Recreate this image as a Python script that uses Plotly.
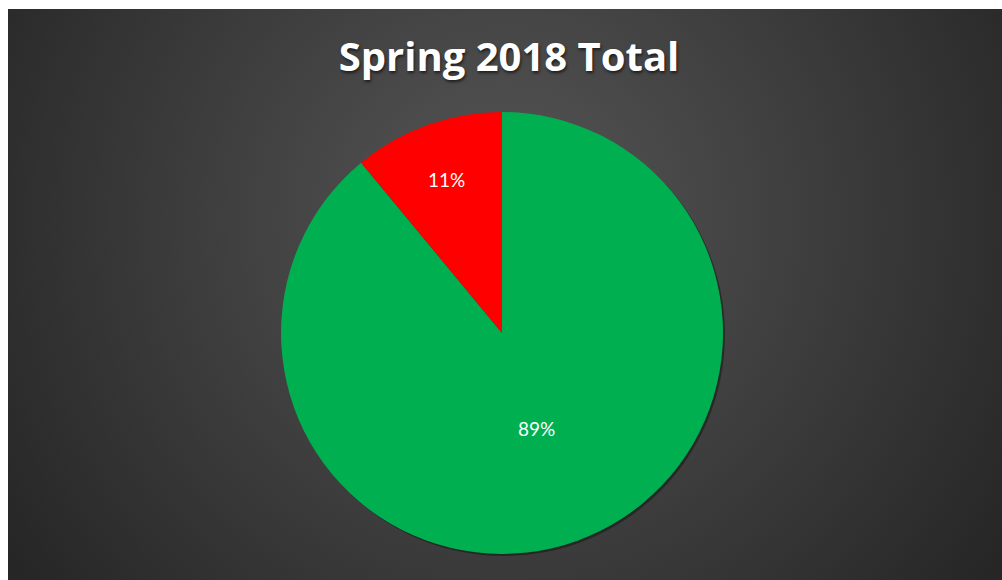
import base64
import math
import plotly.graph_objects as go

# Share of the Spring 2018 total (slices run clockwise from 12 o'clock)
categories = ["Yes", "No"]
values = [89, 11]
slice_colors = ["#00B050", "#FF0000"]

title_text = "Spring 2018 Total"

# Plot-area size in pixels (figure minus margins)
W, H = 994, 571

# Dark radial-gradient backdrop drawn as an SVG image behind the plot area
svg = (
    f'<svg xmlns="http://www.w3.org/2000/svg" width="{W}" height="{H}" '
    f'viewBox="0 0 {W} {H}" preserveAspectRatio="none">'
    '<defs><radialGradient id="g" cx="497" cy="210" r="600" gradientUnits="userSpaceOnUse">'
    '<stop offset="0" stop-color="#565656"/>'
    '<stop offset="1" stop-color="#262626"/>'
    '</radialGradient></defs>'
    f'<rect width="{W}" height="{H}" fill="url(#g)"/></svg>'
)
bg_src = "data:image/svg+xml;base64," + base64.b64encode(svg.encode()).decode()

dom_x = [0.2747, 0.7193]
dom_y = [0.0456, 0.8196]

fig = go.Figure(
    go.Pie(
        labels=categories,
        values=values,
        marker=dict(colors=slice_colors, line=dict(width=0)),
        sort=False,
        direction="clockwise",
        rotation=0,
        textinfo="none",
        domain=dict(x=dom_x, y=dom_y),
        showlegend=False,
        hoverinfo="label+percent",
    )
)

# Percentage labels placed along each slice's mid-angle
cx = (dom_x[0] + dom_x[1]) / 2
cy = (dom_y[0] + dom_y[1]) / 2
rx = (dom_x[1] - dom_x[0]) / 2
ry = (dom_y[1] - dom_y[0]) / 2
label_radius = [0.46, 0.74]
total = sum(values)
start = 0.0
annotations = []
for v, rr in zip(values, label_radius):
    frac = v / total
    mid = (start + frac / 2) * 2 * math.pi
    start += frac
    annotations.append(
        dict(
            x=cx + rr * rx * math.sin(mid),
            y=cy + rr * ry * math.cos(mid),
            xref="paper",
            yref="paper",
            xanchor="center",
            yanchor="middle",
            text=f"{round(frac * 100)}%",
            showarrow=False,
            font=dict(family="Lato, 'Open Sans', sans-serif", size=19, color="#FFFFFF"),
        )
    )

# Soft drop shadow under the pie (slightly offset down-right)
shadow_off_x = 2 / W
shadow_off_y = 2 / H
shapes = [
    dict(
        type="circle",
        xref="paper",
        yref="paper",
        x0=dom_x[0] + shadow_off_x,
        x1=dom_x[1] + shadow_off_x,
        y0=dom_y[0] - shadow_off_y,
        y1=dom_y[1] - shadow_off_y,
        fillcolor="rgba(0,0,0,0.35)",
        line=dict(width=0),
        layer="below",
    )
]

fig.update_layout(
    width=1002,
    height=580,
    margin=dict(l=8, r=0, t=9, b=0),
    paper_bgcolor="#FFFFFF",
    plot_bgcolor="rgba(0,0,0,0)",
    title=dict(
        text=f"<b>{title_text}</b>",
        x=0.508,
        xanchor="center",
        y=0.902,
        yanchor="middle",
        font=dict(
            family="'Open Sans', Lato, sans-serif",
            size=40,
            color="#FFFFFF",
            shadow="1px 2px 3px rgba(0,0,0,0.6)",
        ),
    ),
    annotations=annotations,
    shapes=shapes,
    images=[
        dict(
            source=bg_src,
            xref="paper",
            yref="paper",
            x=0,
            y=1,
            sizex=1,
            sizey=1,
            xanchor="left",
            yanchor="top",
            sizing="stretch",
            layer="below",
        )
    ],
)

fig.write_html("out.html")
